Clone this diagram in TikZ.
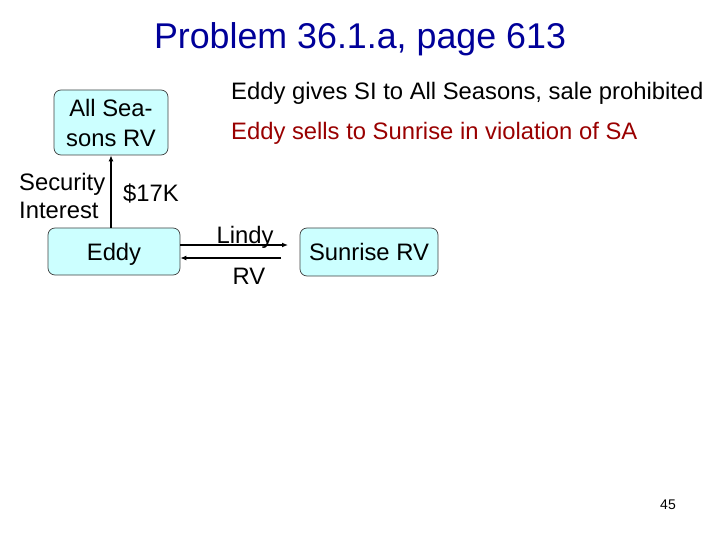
\documentclass[tikz,border=0pt]{standalone}
\usepackage{fontspec}
\setmainfont{Liberation Sans}
\usetikzlibrary{arrows.meta}
\definecolor{titleblue}{RGB}{0,0,153}
\definecolor{darkred}{RGB}{153,0,0}
\definecolor{boxfill}{RGB}{204,255,255}
\definecolor{boxline}{RGB}{64,64,64}
\tikzset{
  party/.style={draw=boxline, line width=0.7pt, fill=boxfill, rounded corners=7pt, inner sep=0pt, align=center, text depth=0pt, font=\fontsize{23.8}{30}\selectfont},
  lbl/.style={inner sep=0pt, font=\fontsize{23.8}{28}\selectfont},
  arr/.style={line width=1.3pt, -{Latex[length=6pt,width=5pt]}}
}
\begin{document}
\begin{tikzpicture}[x=1pt,y=-1pt]
\useasboundingbox (0,0) rectangle (720,540);
\node[inner sep=0pt, text=titleblue, font=\fontsize{35.8}{40}\selectfont] (title) at (360,39) {Problem 36.1.a, page 613};
\node[party, minimum width=114pt, minimum height=65pt] (alls) at (111,122.5) {All Sea-\\sons RV};
\node[party, minimum width=132pt, minimum height=47pt] (eddy) at (114,251.5) {Eddy};
\node[party, minimum width=138pt, minimum height=48pt] (sun) at (369,252) {Sunrise RV};
\node[lbl, align=left, anchor=west] (si) at (19,195.5) {Security\\Interest};
\node[lbl, anchor=west] (k17) at (123,194) {\$17K};
\node[lbl, anchor=west] (l1) at (231,93) {Eddy gives SI to All Seasons, sale prohibited};
\node[lbl, anchor=west, text=darkred] (l2) at (231,133) {Eddy sells to Sunrise in violation of SA};
\node[lbl] (lindy) at (245,237) {Lindy};
\node[lbl] (rv) at (249,276) {RV};
\node[inner sep=0pt, font=\fontsize{14}{16}\selectfont] (pg) at (668,505) {45};
\coordinate (a1) at (288,245);
\coordinate (b1) at (281,258);
\draw[arr] (eddy.north -| alls.south) -- (alls.south);
\draw[arr] (eddy.east |- a1) -- (a1);
\draw[arr] (b1) -- (eddy.east |- b1);
\end{tikzpicture}
\end{document}
